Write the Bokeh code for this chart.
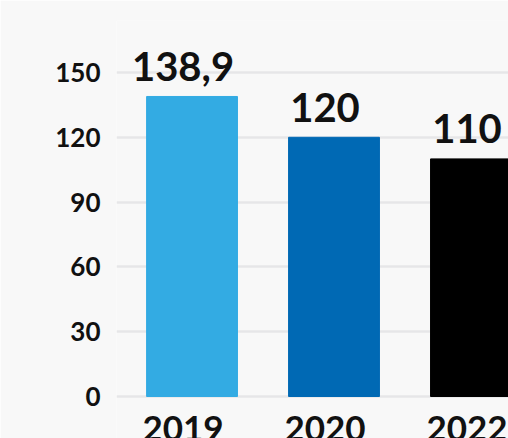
from bokeh.plotting import figure
from bokeh.models import Range1d, FixedTicker, ColumnDataSource
from bokeh.core.properties import value
from bokeh.embed import file_html
from bokeh.resources import INLINE

categories = ["2019", "2020", "2022"]
values = [138.9, 120, 110]
labels = ["138,9", "120", "110"]
colors = ["#33ABE3", "#0069B4", "#000000"]
y_ticks = [0, 30, 60, 90, 120, 150]

xs = list(range(len(categories)))
src = ColumnDataSource(dict(x=xs, top=values, label=labels, cat=categories, color=colors,
                            zero=[0] * len(xs)))

BG = "#F8F8F8"
FONT = "Lato"

p = figure(width=508, height=438, output_backend="svg", toolbar_location=None,
           x_range=Range1d(-0.532, 2.229), y_range=Range1d(-19.44, 174.07),
           min_border_left=116, min_border_right=0, min_border_top=20, min_border_bottom=0)
p.background_fill_color = BG
p.border_fill_color = BG
p.outline_line_color = None
p.xaxis.visible = False

p.xgrid.visible = False
p.ygrid.ticker = FixedTicker(ticks=y_ticks)
p.ygrid.grid_line_color = "#E6E6E8"
p.ygrid.grid_line_width = 2.5

p.vbar(x="x", top="top", width=0.64, color="color", source=src)

p.text(x="x", y="top", text="label", source=src, text_align="center",
       text_baseline="alphabetic", y_offset=-30, x_offset=-9,
       text_font=value(FONT), text_font_style="bold", text_font_size="40px",
       text_color="#111111")

p.text(x="x", y="zero", text="cat", source=src, text_align="center",
       text_baseline="alphabetic", y_offset=32, x_offset=-9,
       text_font=value(FONT), text_font_style="bold", text_font_size="35px",
       text_color="#111111")

p.yaxis.ticker = FixedTicker(ticks=y_ticks)
p.yaxis.axis_line_color = None
p.yaxis.major_tick_line_color = None
p.yaxis.minor_tick_line_color = None
p.yaxis.major_tick_out = 0
p.yaxis.major_tick_in = 0
p.yaxis.major_label_standoff = 16
p.yaxis.major_label_text_font = FONT
p.yaxis.major_label_text_font_style = "bold"
p.yaxis.major_label_text_font_size = "26px"
p.yaxis.major_label_text_color = "#111111"

open("out.html", "w").write(file_html(p, INLINE))
